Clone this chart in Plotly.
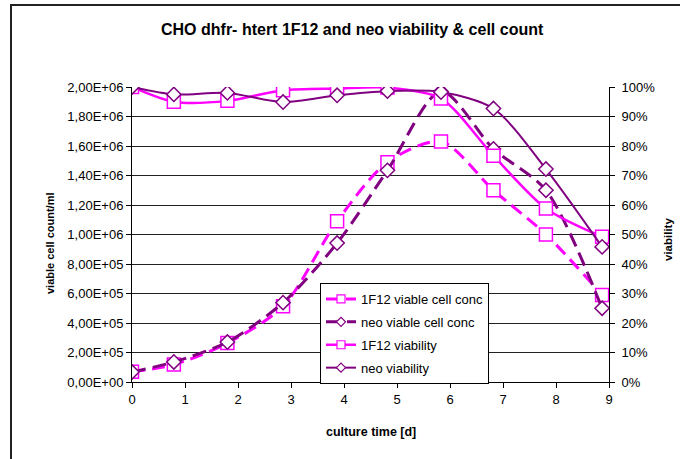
import plotly.graph_objects as go

# culture time [d]
days = [0, 0.79, 1.8, 2.85, 3.87, 4.82, 5.83, 6.82, 7.81, 8.87]

# viable cell concentration (cells/ml)
conc_1f12 = [7.0e4, 1.18e5, 2.64e5, 5.13e5, 1.09e6, 1.49e6, 1.63e6, 1.30e6, 1.00e6, 0.59e6]
conc_neo = [6.8e4, 1.36e5, 2.71e5, 5.38e5, 9.42e5, 1.435e6, 1.97e6, 1.58e6, 1.30e6, 0.50e6]

# viability (fraction)
via_1f12 = [1.00, 0.95, 0.953, 0.989, 0.995, 0.998, 0.961, 0.767, 0.588, 0.492]
via_neo = [1.00, 0.975, 0.98, 0.949, 0.972, 0.986, 0.983, 0.927, 0.722, 0.458]

series_names = ["1F12 viable cell conc", "neo viable cell conc", "1F12 viability", "neo viability"]

left_ticks = [i * 2e5 for i in range(11)]
left_labels = ["0,00E+00", "2,00E+05", "4,00E+05", "6,00E+05", "8,00E+05", "1,00E+06",
               "1,20E+06", "1,40E+06", "1,60E+06", "1,80E+06", "2,00E+06"]
right_ticks = [i / 10 for i in range(11)]
right_labels = [f"{i*10}%" for i in range(11)]
x_ticks = list(range(10))

MAG = "#FF00FF"
PUR = "#800080"
FONT = "Liberation Sans, Arial, sans-serif"

styles = [
    dict(color=MAG, width=3, dash="13px,7px", symbol="square", size=13, lsize=8, axis="y"),
    dict(color=PUR, width=3, dash="14px,7px", symbol="diamond", size=11, lsize=7, axis="y"),
    dict(color=MAG, width=2.5, dash="solid", symbol="square", size=13, lsize=8, axis="y2"),
    dict(color=PUR, width=2, dash="solid", symbol="diamond", size=11, lsize=7, axis="y2"),
]
values = [conc_1f12, conc_neo, via_1f12, via_neo]

fig = go.Figure()

for name, vals, st in zip(series_names, values, styles):
    fig.add_trace(go.Scatter(
        x=days, y=vals, name=name, yaxis=st["axis"], showlegend=False,
        mode="lines+markers",
        line=dict(color=st["color"], width=st["width"], dash=st["dash"],
                  shape="spline", smoothing=0.8),
        marker=dict(symbol=st["symbol"], size=st["size"], color="white",
                    line=dict(color=st["color"], width=1.5)),
    ))

# legend entries (smaller legend markers, as in the original)
for i, (name, st) in enumerate(zip(series_names, styles)):
    fig.add_trace(go.Scatter(
        x=[None], y=[None], name=name, legendgroup=f"g{i}", yaxis=st["axis"],
        mode="lines+markers",
        line=dict(color=st["color"], width=st["width"], dash=st["dash"]),
        marker=dict(symbol=st["symbol"], size=st["lsize"], color="white",
                    line=dict(color=st["color"], width=1.2)),
    ))

L, R, T, B = 132, 609, 87, 382
W, H = 680, 459

def px_x(p):
    return (p - L) / (R - L)

def px_y(p):
    return (B - p) / (B - T)

fig.update_layout(
    width=W, height=H,
    margin=dict(l=L, r=W - R, t=T, b=H - B, pad=0),
    paper_bgcolor="white", plot_bgcolor="white",
    font=dict(family=FONT, size=13, color="black"),
    showlegend=True,
    legend=dict(
        x=px_x(320), y=px_y(283), xanchor="left", yanchor="top",
        bgcolor="white", bordercolor="black", borderwidth=1,
        font=dict(family=FONT, size=13, color="black"),
        tracegroupgap=3, itemsizing="trace",
    ),
    xaxis=dict(
        range=[0, 9], tickvals=x_ticks, ticktext=[str(v) for v in x_ticks],
        showgrid=False, zeroline=False, showline=True, linecolor="black", linewidth=1,
        ticks="outside", ticklen=5, tickcolor="black", tickfont=dict(size=13),
    ),
    yaxis=dict(
        range=[0, 2e6], tickvals=left_ticks, ticktext=left_labels,
        showgrid=True, gridcolor="#222222", gridwidth=1, zeroline=False,
        showline=True, linecolor="black", linewidth=1,
        ticks="outside", ticklen=5, tickcolor="black", tickfont=dict(size=13),
    ),
    yaxis2=dict(
        range=[0, 1], tickvals=right_ticks, ticktext=right_labels,
        overlaying="y", side="right", showgrid=False, zeroline=False,
        showline=True, linecolor="black", linewidth=1,
        ticks="outside", ticklen=5, tickcolor="black", tickfont=dict(size=13),
        ticklabelstandoff=4,
    ),
    shapes=[dict(
        type="rect", xref="paper", yref="paper",
        x0=px_x(11), x1=px_x(760), y0=px_y(560), y1=px_y(5),
        line=dict(color="#222222", width=2), fillcolor="rgba(0,0,0,0)", layer="below",
    )],
    annotations=[
        dict(text="<b>CHO dhfr- htert 1F12 and neo viability & cell count</b>",
             xref="paper", yref="paper", x=px_x(352), y=px_y(30),
             xanchor="center", yanchor="middle", showarrow=False,
             font=dict(size=16, family=FONT)),
        dict(text="<b>viable cell count/ml</b>", textangle=-90,
             xref="paper", yref="paper", x=px_x(50), y=px_y(244),
             xanchor="center", yanchor="middle", showarrow=False,
             font=dict(size=11, family=FONT)),
        dict(text="<b>viability</b>", textangle=-90,
             xref="paper", yref="paper", x=px_x(668), y=px_y(240),
             xanchor="center", yanchor="middle", showarrow=False,
             font=dict(size=11.5, family=FONT)),
        dict(text="<b>culture time [d]</b>",
             xref="paper", yref="paper", x=px_x(371), y=px_y(432),
             xanchor="center", yanchor="middle", showarrow=False,
             font=dict(size=12.5, family=FONT)),
    ],
)

fig.write_html("out.html")
